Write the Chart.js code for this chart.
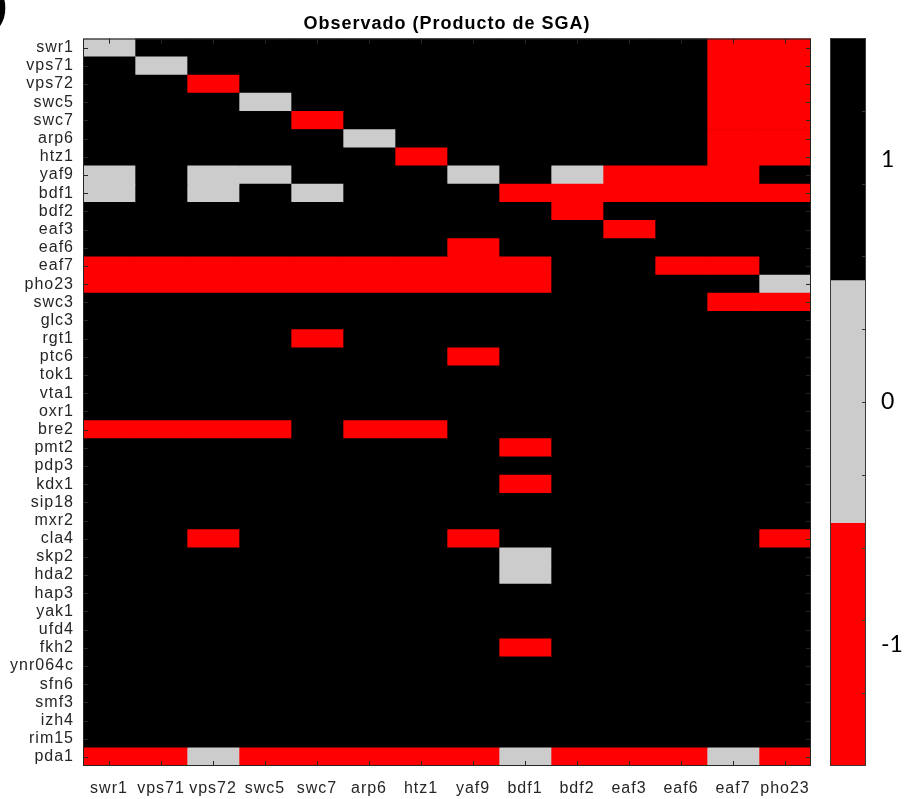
<!DOCTYPE html>
<html>
<head>
<meta charset="utf-8">
<script src="https://cdn.jsdelivr.net/npm/chart.js@4/dist/chart.umd.min.js"></script>
<style>
  html, body { margin: 0; padding: 0; background: #fff; }
  #wrap { position: relative; width: 912px; height: 799px; overflow: hidden; }
  #wrap canvas { position: absolute; left: 0; top: 0; }
  #panel { position: absolute; left: -6px; top: -15px; font: bold 40px "Liberation Sans", Arial, sans-serif; color: #000; line-height: 1; }
</style>
</head>
<body>
<div id="wrap">
  <canvas id="heat" width="912" height="799"></canvas>
  <canvas id="bar" width="912" height="799"></canvas>
  <span id="panel">)</span>
</div>
<script>
// Query genes (columns) and interacting genes (rows)
const colGenes = ['swr1', 'vps71', 'vps72', 'swc5', 'swc7', 'arp6', 'htz1', 'yaf9', 'bdf1', 'bdf2', 'eaf3', 'eaf6', 'eaf7', 'pho23'];
const rowGenes = ['swr1', 'vps71', 'vps72', 'swc5', 'swc7', 'arp6', 'htz1', 'yaf9', 'bdf1', 'bdf2',
  'eaf3', 'eaf6', 'eaf7', 'pho23', 'swc3', 'glc3', 'rgt1', 'ptc6', 'tok1', 'vta1',
  'oxr1', 'bre2', 'pmt2', 'pdp3', 'kdx1', 'sip18', 'mxr2', 'cla4', 'skp2', 'hda2',
  'hap3', 'yak1', 'ufd4', 'fkh2', 'ynr064c', 'sfn6', 'smf3', 'izh4', 'rim15', 'pda1'];

// SGA product per row gene, one value per column gene: 1, 0 or -1
const values = [
  [ 0, 1, 1, 1, 1, 1, 1, 1, 1, 1, 1, 1,-1,-1], // swr1
  [ 1, 0, 1, 1, 1, 1, 1, 1, 1, 1, 1, 1,-1,-1], // vps71
  [ 1, 1,-1, 1, 1, 1, 1, 1, 1, 1, 1, 1,-1,-1], // vps72
  [ 1, 1, 1, 0, 1, 1, 1, 1, 1, 1, 1, 1,-1,-1], // swc5
  [ 1, 1, 1, 1,-1, 1, 1, 1, 1, 1, 1, 1,-1,-1], // swc7
  [ 1, 1, 1, 1, 1, 0, 1, 1, 1, 1, 1, 1,-1,-1], // arp6
  [ 1, 1, 1, 1, 1, 1,-1, 1, 1, 1, 1, 1,-1,-1], // htz1
  [ 0, 1, 0, 0, 1, 1, 1, 0, 1, 0,-1,-1,-1, 1], // yaf9
  [ 0, 1, 0, 1, 0, 1, 1, 1,-1,-1,-1,-1,-1,-1], // bdf1
  [ 1, 1, 1, 1, 1, 1, 1, 1, 1,-1, 1, 1, 1, 1], // bdf2
  [ 1, 1, 1, 1, 1, 1, 1, 1, 1, 1,-1, 1, 1, 1], // eaf3
  [ 1, 1, 1, 1, 1, 1, 1,-1, 1, 1, 1, 1, 1, 1], // eaf6
  [-1,-1,-1,-1,-1,-1,-1,-1,-1, 1, 1,-1,-1, 1], // eaf7
  [-1,-1,-1,-1,-1,-1,-1,-1,-1, 1, 1, 1, 1, 0], // pho23
  [ 1, 1, 1, 1, 1, 1, 1, 1, 1, 1, 1, 1,-1,-1], // swc3
  [ 1, 1, 1, 1, 1, 1, 1, 1, 1, 1, 1, 1, 1, 1], // glc3
  [ 1, 1, 1, 1,-1, 1, 1, 1, 1, 1, 1, 1, 1, 1], // rgt1
  [ 1, 1, 1, 1, 1, 1, 1,-1, 1, 1, 1, 1, 1, 1], // ptc6
  [ 1, 1, 1, 1, 1, 1, 1, 1, 1, 1, 1, 1, 1, 1], // tok1
  [ 1, 1, 1, 1, 1, 1, 1, 1, 1, 1, 1, 1, 1, 1], // vta1
  [ 1, 1, 1, 1, 1, 1, 1, 1, 1, 1, 1, 1, 1, 1], // oxr1
  [-1,-1,-1,-1, 1,-1,-1, 1, 1, 1, 1, 1, 1, 1], // bre2
  [ 1, 1, 1, 1, 1, 1, 1, 1,-1, 1, 1, 1, 1, 1], // pmt2
  [ 1, 1, 1, 1, 1, 1, 1, 1, 1, 1, 1, 1, 1, 1], // pdp3
  [ 1, 1, 1, 1, 1, 1, 1, 1,-1, 1, 1, 1, 1, 1], // kdx1
  [ 1, 1, 1, 1, 1, 1, 1, 1, 1, 1, 1, 1, 1, 1], // sip18
  [ 1, 1, 1, 1, 1, 1, 1, 1, 1, 1, 1, 1, 1, 1], // mxr2
  [ 1, 1,-1, 1, 1, 1, 1,-1, 1, 1, 1, 1, 1,-1], // cla4
  [ 1, 1, 1, 1, 1, 1, 1, 1, 0, 1, 1, 1, 1, 1], // skp2
  [ 1, 1, 1, 1, 1, 1, 1, 1, 0, 1, 1, 1, 1, 1], // hda2
  [ 1, 1, 1, 1, 1, 1, 1, 1, 1, 1, 1, 1, 1, 1], // hap3
  [ 1, 1, 1, 1, 1, 1, 1, 1, 1, 1, 1, 1, 1, 1], // yak1
  [ 1, 1, 1, 1, 1, 1, 1, 1, 1, 1, 1, 1, 1, 1], // ufd4
  [ 1, 1, 1, 1, 1, 1, 1, 1,-1, 1, 1, 1, 1, 1], // fkh2
  [ 1, 1, 1, 1, 1, 1, 1, 1, 1, 1, 1, 1, 1, 1], // ynr064c
  [ 1, 1, 1, 1, 1, 1, 1, 1, 1, 1, 1, 1, 1, 1], // sfn6
  [ 1, 1, 1, 1, 1, 1, 1, 1, 1, 1, 1, 1, 1, 1], // smf3
  [ 1, 1, 1, 1, 1, 1, 1, 1, 1, 1, 1, 1, 1, 1], // izh4
  [ 1, 1, 1, 1, 1, 1, 1, 1, 1, 1, 1, 1, 1, 1], // rim15
  [-1,-1, 0,-1,-1,-1,-1,-1, 0,-1,-1,-1, 0,-1]  // pda1
];

// Colour map levels and the colour bar
const levels = [-1, 0, 1];
const levelColors = ['#ff0000', '#cccccc', '#000000'];
const colorbarLabels = [-1, 0, 1];
const colorbarMinorTicks = [-1.2, -0.9, -0.6, -0.3, 0, 0.3, 0.6, 0.9, 1.2];

const FONT = '"Liberation Sans", Arial, Helvetica, sans-serif';
const AXIS_COLOR = '#262626';

function colorOf(v) {
  return levelColors[levels.indexOf(v)];
}

// Black plot background, inward tick marks and the axes box
const axesBox = {
  id: 'axesBox',
  beforeDraw(chart) {
    chart.ctx.letterSpacing = '1px';
  },
  beforeDatasetsDraw(chart) {
    const { ctx, chartArea: a } = chart;
    ctx.save();
    ctx.fillStyle = levelColors[levels.indexOf(1)];
    ctx.fillRect(a.left, a.top, a.width, a.height);
    ctx.restore();
  },
  afterDatasetsDraw(chart) {
    const { ctx, chartArea: a, scales: { x, y } } = chart;
    const len = 5;
    ctx.save();
    ctx.strokeStyle = AXIS_COLOR;
    ctx.lineWidth = 1;
    ctx.beginPath();
    x.ticks.forEach(t => {
      const px = Math.round(x.getPixelForValue(t.value)) + 0.5;
      ctx.moveTo(px, a.top); ctx.lineTo(px, a.top + len);
      ctx.moveTo(px, a.bottom); ctx.lineTo(px, a.bottom - len);
    });
    y.ticks.forEach((t, i) => {
      const py = Math.round(y.getPixelForTick(i)) + 0.5;
      ctx.moveTo(a.left, py); ctx.lineTo(a.left + len, py);
      ctx.moveTo(a.right, py); ctx.lineTo(a.right - len, py);
    });
    ctx.stroke();
    ctx.strokeRect(a.left + 0.5, a.top + 0.5, a.width - 1, a.height - 1);
    ctx.restore();
  }
};

new Chart(document.getElementById('heat'), {
  type: 'bar',
  data: {
    labels: rowGenes,
    datasets: colGenes.map((name, j) => ({
      label: name,
      data: values.map(() => [j, j + 1]),
      backgroundColor: values.map(row => colorOf(row[j])),
      borderWidth: 0,
      grouped: false,
      barPercentage: 1,
      categoryPercentage: 1
    }))
  },
  options: {
    indexAxis: 'y',
    responsive: false,
    animation: false,
    events: [],
    layout: { padding: { left: 0, right: 101, top: 0, bottom: 0 } },
    plugins: {
      legend: { display: false },
      tooltip: { enabled: false },
      title: {
        display: true,
        fullSize: false,
        text: 'Observado (Producto de SGA)',
        color: '#000',
        font: { family: FONT, size: 18, weight: 'bold' },
        padding: { top: 13, bottom: 4 }
      }
    },
    scales: {
      x: {
        type: 'linear',
        position: 'bottom',
        min: 0,
        max: colGenes.length,
        grid: { display: false, drawTicks: false },
        border: { display: false },
        afterBuildTicks: s => { s.ticks = colGenes.map((_, j) => ({ value: j + 0.5 })); },
        afterFit: s => { s.height = 33; },
        ticks: {
          autoSkip: false,
          maxRotation: 0,
          padding: 13,
          color: AXIS_COLOR,
          font: { family: FONT, size: 16 },
          callback: v => colGenes[Math.floor(v)]
        }
      },
      y: {
        type: 'category',
        grid: { display: false, drawTicks: false },
        border: { display: false },
        afterFit: s => { s.width = 83; },
        ticks: {
          autoSkip: false,
          padding: 9,
          color: AXIS_COLOR,
          font: { family: FONT, size: 16 }
        }
      }
    }
  },
  plugins: [axesBox]
});

// Colour bar: one band per level, with inward minor ticks and a frame
const barFrame = {
  id: 'barFrame',
  afterDatasetsDraw(chart) {
    const { ctx, chartArea: a, scales: { y } } = chart;
    ctx.save();
    ctx.strokeStyle = '#3a3a3a';
    ctx.lineWidth = 1;
    ctx.beginPath();
    colorbarMinorTicks.forEach(v => {
      const py = Math.round(y.getPixelForValue(v)) + 0.5;
      ctx.moveTo(a.right, py); ctx.lineTo(a.right - 4, py);
    });
    ctx.stroke();
    ctx.strokeRect(a.left + 0.5, a.top + 0.5, a.width - 1, a.height - 1);
    ctx.restore();
  }
};

new Chart(document.getElementById('bar'), {
  type: 'bar',
  data: {
    labels: [''],
    datasets: levels.map((v, i) => ({
      label: String(v),
      data: [[v - 0.5, v + 0.5]],
      backgroundColor: levelColors[i],
      borderWidth: 0,
      grouped: false,
      barPercentage: 1,
      categoryPercentage: 1
    }))
  },
  options: {
    responsive: false,
    animation: false,
    events: [],
    layout: { padding: { left: 830, right: 0, top: 38, bottom: 33 } },
    plugins: { legend: { display: false }, tooltip: { enabled: false } },
    scales: {
      x: { display: false },
      y: {
        type: 'linear',
        position: 'right',
        min: -1.5,
        max: 1.5,
        grid: { display: false, drawTicks: false },
        border: { display: false },
        afterBuildTicks: s => { s.ticks = colorbarLabels.map(v => ({ value: v })); },
        afterFit: s => { s.width = 46; },
        ticks: {
          padding: 15,
          color: '#000',
          font: { family: 'Lato, "Open Sans", sans-serif', size: 23 },
          callback: v => String(v)
        }
      }
    }
  },
  plugins: [barFrame]
});
</script>
</body>
</html>
